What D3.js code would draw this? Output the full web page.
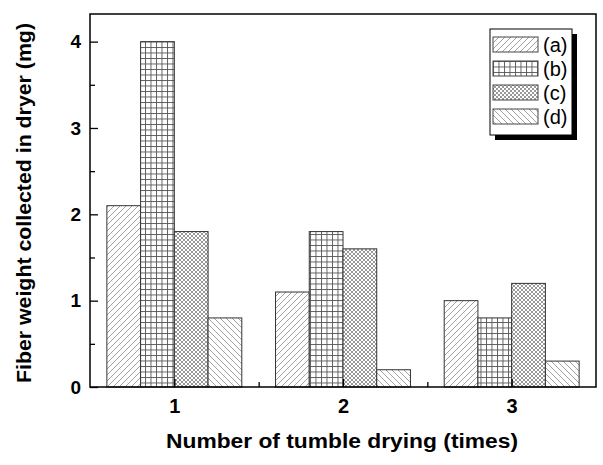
<!DOCTYPE html>
<html>
<head>
<meta charset="utf-8">
<script src="https://cdn.jsdelivr.net/npm/d3@7"></script>
<style>
  body { margin: 0; background: #fff; }
  svg { display: block; font-family: Arial, "Liberation Sans", sans-serif; }
</style>
</head>
<body>
<svg id="mainSVG"></svg>
<script>
/* ----------尺寸---------- */

var SVG_WIDTH = 603,
    SVG_HEIGHT = 465;

var margin = {top: 14, right: 7, bottom: 78, left: 90};
var plotW = SVG_WIDTH - margin.left - margin.right,
    plotH = SVG_HEIGHT - margin.top - margin.bottom;

/* ----------数据---------- */

var groups = [1, 2, 3];
var seriesNames = ["(a)", "(b)", "(c)", "(d)"];
var valuesA = [2.1, 1.1, 1.0],
    valuesB = [4.0, 1.8, 0.8],
    valuesC = [1.8, 1.6, 1.2],
    valuesD = [0.8, 0.2, 0.3];
var yTicks = [0, 1, 2, 3, 4];
var xLabel = "Number of tumble drying (times)",
    yLabel = "Fiber weight collected in dryer (mg)";

var series = [valuesA, valuesB, valuesC, valuesD].map(function(v, i) {
    return {name: seriesNames[i], pattern: "pat" + i, values: v};
});

/* ----------svg---------- */

var svg = d3.select("#mainSVG")
    .attr("width", SVG_WIDTH)
    .attr("height", SVG_HEIGHT);

var defs = svg.append("defs");

// (a) 斜线 /
var p0 = defs.append("pattern").attr("id", "pat0")
    .attr("patternUnits", "userSpaceOnUse").attr("width", 6).attr("height", 6);
p0.append("rect").attr("width", 6).attr("height", 6).attr("fill", "#fff");
p0.append("path").attr("d", "M0,6L6,0M-1,1L1,-1M5,7L7,5")
    .attr("stroke", "#8a8a8a").attr("stroke-width", 0.8);

// (b) 网格
var p1 = defs.append("pattern").attr("id", "pat1")
    .attr("patternUnits", "userSpaceOnUse").attr("width", 5.5).attr("height", 5.5);
p1.append("rect").attr("width", 5.5).attr("height", 5.5).attr("fill", "#fff");
p1.append("path").attr("d", "M0,0.5H5.5M0.5,0V5.5")
    .attr("stroke", "#555").attr("stroke-width", 0.9);

// (c) 交叉线
var p2 = defs.append("pattern").attr("id", "pat2")
    .attr("patternUnits", "userSpaceOnUse").attr("width", 4).attr("height", 4);
p2.append("rect").attr("width", 4).attr("height", 4).attr("fill", "#fff");
p2.append("path").attr("d", "M0,4L4,0M0,0L4,4M-1,1L1,-1M3,5L5,3M-1,3L1,5M3,-1L5,1")
    .attr("stroke", "#777").attr("stroke-width", 0.75);

// (d) 斜线 \
var p3 = defs.append("pattern").attr("id", "pat3")
    .attr("patternUnits", "userSpaceOnUse").attr("width", 6).attr("height", 6);
p3.append("rect").attr("width", 6).attr("height", 6).attr("fill", "#fff");
p3.append("path").attr("d", "M0,0L6,6M-1,5L1,7M5,-1L7,1")
    .attr("stroke", "#8a8a8a").attr("stroke-width", 0.8);

var g = svg.append("g")
    .attr("transform", "translate(" + margin.left + "," + margin.top + ")");

/* ----------比例尺---------- */

var x = d3.scaleLinear().domain([0.5, 3.5]).range([0, plotW]);
var y = d3.scaleLinear().domain([0, 4.32]).range([plotH, 0]);
var barW = 0.2;

/* ----------柱子---------- */

series.forEach(function(s, i) {
    g.selectAll(".bar" + i)
        .data(s.values)
      .enter().append("rect")
        .attr("class", "bar" + i)
        .attr("x", function(d, j) { return x(groups[j] - 0.4 + i * barW); })
        .attr("width", x(barW) - x(0))
        .attr("y", function(d) { return y(d); })
        .attr("height", function(d) { return y(0) - y(d); })
        .attr("fill", "url(#" + s.pattern + ")")
        .attr("stroke", "#333")
        .attr("stroke-width", 1);
});

/* ----------坐标轴---------- */

var yMinor = d3.range(0.5, 4.5, 1);
var xMinor = [1.5, 2.5];

g.append("g")
    .call(d3.axisLeft(y).tickValues(yTicks).tickSize(-8).tickPadding(9).tickFormat(d3.format("d")))
    .call(function(a) { a.select(".domain").remove(); })
    .selectAll("text")
    .attr("font-size", 19).attr("font-weight", "bold").attr("fill", "#000");

g.append("g")
    .call(d3.axisLeft(y).tickValues(yMinor).tickSize(-5).tickFormat(""))
    .call(function(a) { a.select(".domain").remove(); });

g.append("g")
    .attr("transform", "translate(0," + plotH + ")")
    .call(d3.axisBottom(x).tickValues(groups).tickSize(-8).tickPadding(12).tickFormat(d3.format("d")))
    .call(function(a) { a.select(".domain").remove(); })
    .selectAll("text")
    .attr("font-size", 20).attr("font-weight", "bold").attr("fill", "#000");

g.append("g")
    .attr("transform", "translate(0," + plotH + ")")
    .call(d3.axisBottom(x).tickValues(xMinor).tickSize(-5).tickFormat(""))
    .call(function(a) { a.select(".domain").remove(); });

g.selectAll(".tick line").attr("stroke", "#000").attr("stroke-width", 1.3);

// 外框
g.append("rect")
    .attr("width", plotW)
    .attr("height", plotH)
    .attr("fill", "none")
    .attr("stroke", "#000")
    .attr("stroke-width", 1.5);

/* ----------标题---------- */

svg.append("text")
    .attr("x", 342)
    .attr("y", 448)
    .attr("text-anchor", "middle")
    .attr("font-size", 20)
    .attr("font-weight", "bold")
    .attr("textLength", 352)
    .attr("lengthAdjust", "spacingAndGlyphs")
    .text(xLabel);

svg.append("text")
    .attr("transform", "translate(31,203) rotate(-90)")
    .attr("text-anchor", "middle")
    .attr("font-size", 20)
    .attr("font-weight", "bold")
    .attr("textLength", 360)
    .attr("lengthAdjust", "spacingAndGlyphs")
    .text(yLabel);

/* ----------图例---------- */

var legend = svg.append("g").attr("transform", "translate(490,29)");

legend.append("rect")
    .attr("x", 5).attr("y", 5)
    .attr("width", 82).attr("height", 106)
    .attr("fill", "#000");

legend.append("rect")
    .attr("width", 82).attr("height", 106)
    .attr("fill", "#fff")
    .attr("stroke", "#000")
    .attr("stroke-width", 1);

var item = legend.selectAll(".item")
    .data(series)
  .enter().append("g")
    .attr("class", "item")
    .attr("transform", function(d, i) { return "translate(3," + (8 + i * 24) + ")"; });

item.append("rect")
    .attr("width", 45).attr("height", 15)
    .attr("fill", function(d) { return "url(#" + d.pattern + ")"; })
    .attr("stroke", "#444")
    .attr("stroke-width", 1);

item.append("text")
    .attr("x", 50)
    .attr("y", 14.5)
    .attr("font-size", 20)
    .text(function(d) { return d.name; });
</script>
</body>
</html>
